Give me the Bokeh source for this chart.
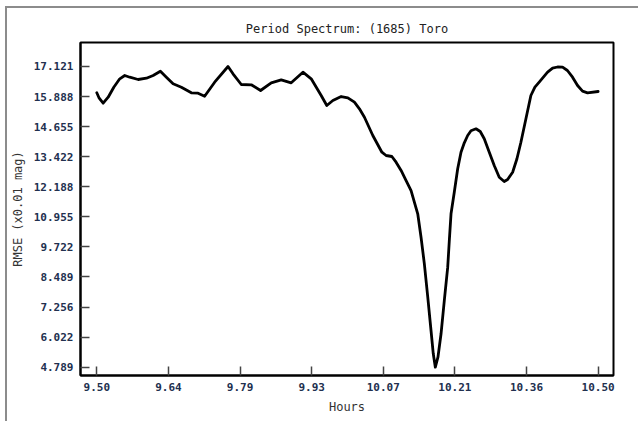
import numpy as np
from bokeh.plotting import figure
from bokeh.models import Range1d, FixedTicker
from bokeh.embed import file_html
from bokeh.resources import INLINE

# Period spectrum of (1685) Toro: trial period (hours) vs fit RMSE (0.01 mag)
hours = [9.500, 9.5048, 9.5127, 9.5227, 9.5339, 9.5458, 9.5558, 9.5657, 9.5825,
         9.599, 9.6124, 9.6269, 9.6388, 9.6522, 9.6687, 9.6886, 9.702, 9.7151,
         9.7351, 9.7618, 9.7717, 9.7882, 9.8082, 9.8267, 9.848, 9.8679, 9.8878,
         9.9112, 9.9277, 9.9476, 9.9588, 9.9709, 9.9875, 10.0008, 10.0139,
         10.0239, 10.0339, 10.0506, 10.0687, 10.0771, 10.0886, 10.097, 10.107,
         10.117, 10.1269, 10.1402, 10.1468, 10.1534, 10.1602, 10.1667, 10.1712,
         10.1753, 10.1805, 10.1867, 10.1932, 10.200, 10.2032, 10.2066, 10.2131,
         10.2199, 10.2265, 10.2331, 10.2398, 10.2464, 10.2564, 10.2649, 10.2729,
         10.2829, 10.2928, 10.3028, 10.3127, 10.3195, 10.3295, 10.3381, 10.346,
         10.356, 10.3659, 10.3739, 10.3825, 10.3992, 10.4092, 10.4191, 10.4291,
         10.4388, 10.449, 10.459, 10.4689, 10.4789, 10.500]
rmse = [16.042, 15.820, 15.616, 15.862, 16.272, 16.616, 16.752, 16.682, 16.588,
        16.641, 16.752, 16.928, 16.682, 16.411, 16.272, 16.042, 16.026, 15.903,
        16.477, 17.121, 16.821, 16.383, 16.370, 16.137, 16.452, 16.575, 16.452,
        16.887, 16.616, 15.931, 15.521, 15.726, 15.890, 15.837, 15.657,
        15.386, 15.041, 14.291, 13.606, 13.471, 13.430, 13.196, 12.856,
        12.445, 12.035, 11.080, 10.120, 9.029, 7.660, 6.294, 5.339,
        4.789, 5.199, 6.159, 7.524, 8.890, 9.985, 11.080, 11.966,
        12.925, 13.606, 13.992, 14.291, 14.484, 14.566, 14.455, 14.156,
        13.606, 13.061, 12.581, 12.405, 12.487, 12.786, 13.336, 14.016,
        14.976, 15.931, 16.272, 16.477, 16.887, 17.051, 17.100, 17.092,
        16.957, 16.682, 16.341, 16.108, 16.042, 16.096]

x_tick_labels = ["9.50", "9.64", "9.79", "9.93", "10.07", "10.21", "10.36", "10.50"]
y_tick_labels = ["4.789", "6.022", "7.256", "8.489", "9.722", "10.955",
                 "12.188", "13.422", "14.655", "15.888", "17.121"]

x_ticks = list(np.linspace(min(hours), max(hours), len(x_tick_labels)))
y_ticks = list(np.linspace(min(rmse), max(rmse), len(y_tick_labels)))

MONO = "DejaVu Sans Mono"

p = figure(width=633, height=415, output_backend="svg", toolbar_location=None,
           x_range=Range1d(9.4675, 10.5307), y_range=Range1d(4.449, 18.105),
           min_border_left=72, min_border_right=27, min_border_top=34,
           min_border_bottom=48)
p.margin = (6, 0, 0, 5)
p.styles = {"border-left": "2px solid #8c8c8c", "border-top": "2px solid #8c8c8c"}

p.title.text = "Period Spectrum: (1685) Toro"
p.title.text_font = MONO
p.title.text_font_size = "12px"
p.title.text_font_style = "normal"
p.title.text_color = "#222222"
p.title.align = "center"
p.title.offset = -20
p.title.standoff = 13

p.outline_line_color = "black"
p.outline_line_width = 2
p.grid.visible = False
p.background_fill_color = "white"
p.border_fill_color = "white"

p.line(hours, rmse, line_color="black", line_width=2.8, line_join="round", line_cap="round")

p.xaxis.ticker = FixedTicker(ticks=x_ticks)
p.xaxis.major_label_overrides = {t: s for t, s in zip(x_ticks, x_tick_labels)}
p.yaxis.ticker = FixedTicker(ticks=y_ticks)
p.yaxis.major_label_overrides = {t: s for t, s in zip(y_ticks, y_tick_labels)}

p.xaxis.axis_label = "Hours"
p.yaxis.axis_label = "RMSE (x0.01 mag)"

for ax in (p.xaxis[0], p.yaxis[0]):
    ax.axis_line_color = "black"
    ax.axis_line_width = 2
    ax.major_tick_in = 9
    ax.major_tick_out = 0
    ax.major_tick_line_color = "#444444"
    ax.major_tick_line_width = 1.5
    ax.minor_tick_line_color = None
    ax.major_label_text_font = MONO
    ax.major_label_text_font_size = "11px"
    ax.major_label_text_font_style = "bold"
    ax.major_label_text_color = "#22304f"
    ax.major_label_standoff = 7
    ax.axis_label_text_font = MONO
    ax.axis_label_text_font_size = "12px"
    ax.axis_label_text_font_style = "normal"
    ax.axis_label_text_color = "#333333"
    ax.axis_label_standoff = 6

open("out.html", "w").write(file_html(p, INLINE))
